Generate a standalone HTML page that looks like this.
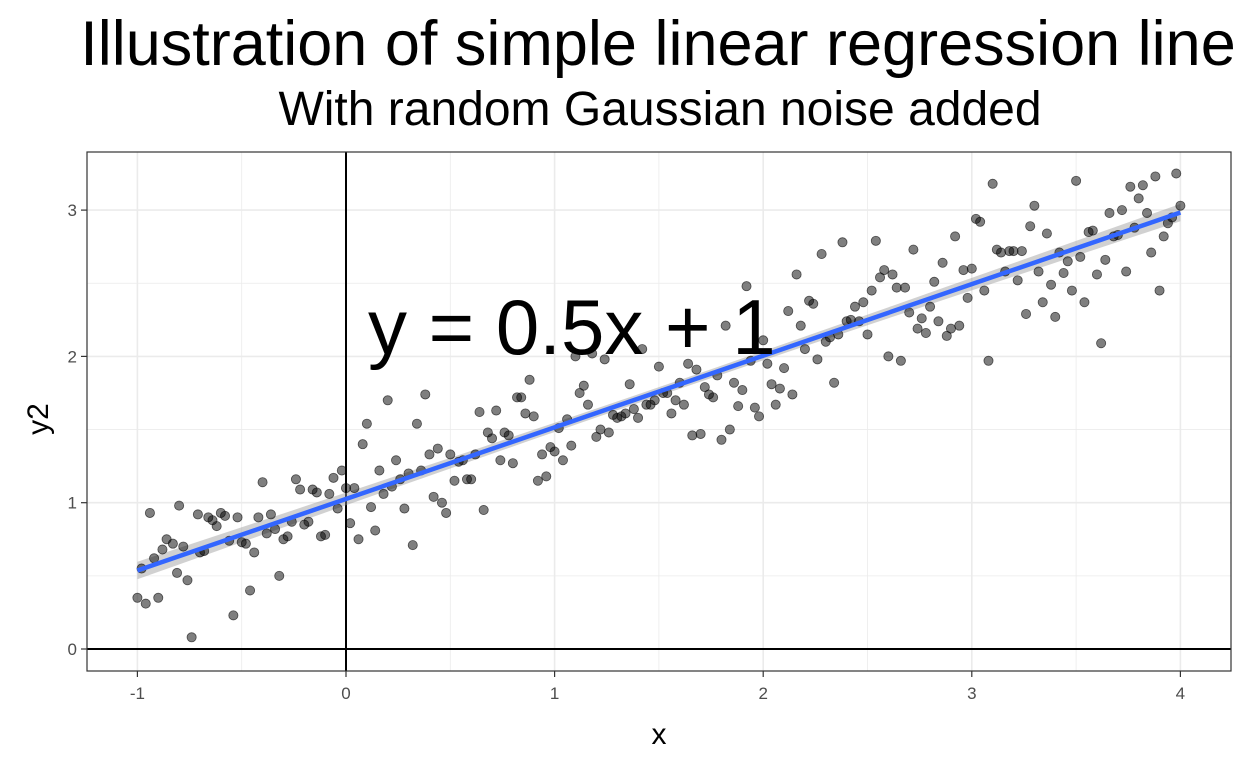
<!DOCTYPE html>
<html><head><meta charset="utf-8"><style>
html,body{margin:0;padding:0;background:#fff;}
svg{display:block;font-family:"Liberation Sans",sans-serif;}
</style></head><body>
<svg id="chart" width="1248" height="768" viewBox="0 0 1248 768" xmlns="http://www.w3.org/2000/svg">
<text x="658" y="65" font-size="63" text-anchor="middle" fill="#000">Illustration of simple linear regression line</text>
<text x="660" y="125" font-size="48" text-anchor="middle" fill="#000">With random Gaussian noise added</text>
<rect x="87" y="152" width="1144" height="519" fill="#fff"/>
<g id="grid"></g>
<g id="refs"></g>
<g id="band"></g>
<g id="pts"></g>
<g id="fit"></g>
<rect x="87" y="152" width="1144" height="519" fill="none" stroke="#333" stroke-width="1.2"/>
<g id="axes"></g>
<text x="368" y="354" font-size="78" fill="#000">y = 0.5x + 1</text>
<text x="659" y="744" font-size="30" text-anchor="middle" fill="#000">x</text>
<text x="40" y="411" font-size="30" text-anchor="middle" fill="#000" transform="rotate(-90 48 411)">y2</text>
</svg>
<script>
const xs=[-1.00,-0.96,-0.94,-0.98,-0.92,-0.90,-0.88,-0.86,-0.83,-0.81,-0.80,-0.78,-0.76,-0.74,-0.71,-0.70,-0.68,-0.66,-0.64,-0.62,-0.60,-0.58,-0.56,-0.54,-0.52,-0.50,-0.48,-0.46,-0.44,-0.42,-0.40,-0.38,-0.36,-0.34,-0.32,-0.30,-0.28,-0.26,-0.24,-0.22,-0.20,-0.18,-0.16,-0.14,-0.12,-0.10,-0.08,-0.06,-0.04,-0.02,0.00,0.02,0.04,0.06,0.08,0.10,0.12,0.14,0.16,0.18,0.20,0.22,0.24,0.26,0.28,0.30,0.32,0.34,0.36,0.38,0.40,0.42,0.44,0.46,0.48,0.50,0.52,0.54,0.56,0.58,0.60,0.62,0.64,0.66,0.68,0.70,0.72,0.74,0.76,0.78,0.80,0.82,0.84,0.86,0.88,0.90,0.92,0.94,0.96,0.98,1.00,1.02,1.04,1.06,1.08,1.10,1.12,1.14,1.16,1.18,1.20,1.22,1.24,1.26,1.28,1.30,1.32,1.34,1.36,1.38,1.40,1.42,1.44,1.46,1.48,1.50,1.52,1.54,1.56,1.58,1.60,1.62,1.64,1.66,1.68,1.70,1.72,1.74,1.76,1.78,1.80,1.82,1.84,1.86,1.88,1.90,1.92,1.94,1.96,1.98,2.00,2.02,2.04,2.06,2.08,2.10,2.12,2.14,2.16,2.18,2.20,2.22,2.24,2.26,2.28,2.30,2.32,2.34,2.36,2.38,2.40,2.42,2.44,2.46,2.48,2.50,2.52,2.54,2.56,2.58,2.60,2.62,2.64,2.66,2.68,2.70,2.72,2.74,2.76,2.78,2.80,2.82,2.84,2.86,2.88,2.90,2.92,2.94,2.96,2.98,3.00,3.02,3.04,3.06,3.08,3.10,3.12,3.14,3.16,3.18,3.20,3.22,3.24,3.26,3.28,3.30,3.32,3.34,3.36,3.38,3.40,3.42,3.44,3.46,3.48,3.50,3.52,3.54,3.56,3.58,3.60,3.62,3.64,3.66,3.68,3.70,3.72,3.74,3.76,3.78,3.80,3.82,3.84,3.86,3.88,3.90,3.92,3.94,3.96,3.98,4.00];
const ys=[0.35,0.31,0.93,0.55,0.62,0.35,0.68,0.75,0.72,0.52,0.98,0.70,0.47,0.08,0.92,0.66,0.67,0.90,0.88,0.84,0.93,0.91,0.74,0.23,0.90,0.73,0.72,0.40,0.66,0.90,1.14,0.79,0.92,0.82,0.50,0.75,0.77,0.87,1.16,1.09,0.85,0.87,1.09,1.07,0.77,0.78,1.06,1.17,0.96,1.22,1.10,0.86,1.10,0.75,1.40,1.54,0.97,0.81,1.22,1.06,1.70,1.11,1.29,1.16,0.96,1.20,0.71,1.54,1.22,1.74,1.33,1.04,1.37,1.00,0.93,1.33,1.15,1.28,1.29,1.16,1.16,1.33,1.62,0.95,1.48,1.44,1.63,1.29,1.48,1.46,1.27,1.72,1.72,1.61,1.84,1.59,1.15,1.33,1.18,1.38,1.35,1.51,1.29,1.57,1.39,2.00,1.75,1.80,1.67,2.02,1.45,1.50,1.98,1.48,1.60,1.58,1.59,1.61,1.81,1.64,1.58,2.05,1.67,1.67,1.70,1.93,1.75,1.75,1.61,1.70,1.82,1.67,1.95,1.46,1.91,1.47,1.79,1.74,1.72,1.87,1.43,2.21,1.50,1.82,1.66,1.77,2.48,1.97,1.65,1.59,2.11,1.95,1.81,1.67,1.78,1.92,2.31,1.74,2.56,2.21,2.05,2.38,2.36,1.98,2.70,2.10,2.13,1.82,2.15,2.78,2.24,2.25,2.34,2.24,2.37,2.15,2.45,2.79,2.54,2.59,2.00,2.56,2.47,1.97,2.47,2.30,2.73,2.19,2.26,2.16,2.34,2.51,2.24,2.64,2.14,2.19,2.82,2.21,2.59,2.40,2.60,2.94,2.92,2.45,1.97,3.18,2.73,2.71,2.58,2.72,2.72,2.52,2.72,2.29,2.89,3.03,2.58,2.37,2.84,2.49,2.27,2.71,2.57,2.65,2.45,3.20,2.68,2.37,2.85,2.86,2.56,2.09,2.66,2.98,2.82,2.83,3.00,2.58,3.16,2.88,3.08,3.17,2.98,2.71,3.23,2.45,2.82,2.91,2.95,3.25,3.03];
const xTicks=[-1,0,1,2,3,4];
const yTicks=[0,1,2,3];
const xTickLabels=["-1","0","1","2","3","4"];
const yTickLabels=["0","1","2","3"];

const NS="http://www.w3.org/2000/svg";
const X=v=>346+v*208.6;
const Y=v=>649-v*146.3;
const L=87,R=1231,T=152,B=671;
function mk(tag,parent,attrs){const e=document.createElementNS(NS,tag);for(const k in attrs)e.setAttribute(k,attrs[k]);parent.appendChild(e);return e;}
const grid=document.getElementById('grid');
for(let v=-1;v<=4.01;v+=0.5){const major=Math.abs(v-Math.round(v))<1e-6;
 const l=mk('line',grid,{x1:X(v),x2:X(v),y1:T,y2:B,stroke:'#ebebeb','stroke-width':major?1.6:0.8});
 }
for(let v=0;v<=3.01;v+=0.5){const major=Math.abs(v-Math.round(v))<1e-6;
 const l=mk('line',grid,{x1:L,x2:R,y1:Y(v),y2:Y(v),stroke:'#ebebeb','stroke-width':major?1.6:0.8});
 }
const refs=document.getElementById('refs');
const rv=mk('line',refs,{x1:X(0),x2:X(0),y1:T,y2:B,stroke:'#000','stroke-width':2});

const rh=mk('line',refs,{x1:L,x2:R,y1:Y(0),y2:Y(0),stroke:'#000','stroke-width':2});

const n=xs.length;let mx=0,my=0;for(let i=0;i<n;i++){mx+=xs[i];my+=ys[i];}mx/=n;my/=n;
let sxx=0,sxy=0;for(let i=0;i<n;i++){sxx+=(xs[i]-mx)**2;sxy+=(xs[i]-mx)*(ys[i]-my);}
const b=sxy/sxx,a=my-b*mx;let sse=0;for(let i=0;i<n;i++)sse+=(ys[i]-a-b*xs[i])**2;
const s=Math.sqrt(sse/(n-2));
const xmin=Math.min(...xs),xmax=Math.max(...xs);
let up=[],lo=[];
for(let k=0;k<=40;k++){const x=xmin+(xmax-xmin)*k/40;const se=1.97*s*Math.sqrt(1/n+(x-mx)**2/sxx);const y=a+b*x;
 up.push(X(x)+','+Y(y+se));lo.unshift(X(x)+','+Y(y-se));}
const band=mk('polygon',document.getElementById('band'),{points:up.concat(lo).join(' '),fill:'#999','fill-opacity':0.45});

const pts=document.getElementById('pts');
for(let i=0;i<n;i++){const c=mk('circle',pts,{cx:X(xs[i]),cy:Y(ys[i]),r:4.6,fill:'#000','fill-opacity':0.5,stroke:'#000','stroke-opacity':0.6,'stroke-width':0.8});
 }
const fl=mk('line',document.getElementById('fit'),{x1:X(xmin),y1:Y(a+b*xmin),x2:X(xmax),y2:Y(a+b*xmax),stroke:'#3366FF','stroke-width':4.5});

const axes=document.getElementById('axes');
xTicks.forEach((v,i)=>{const t=mk('line',axes,{x1:X(v),x2:X(v),y1:B,y2:B+6,stroke:'#333','stroke-width':1.2});
 
 const tx=mk('text',axes,{x:X(v),y:B+28,'font-size':17,'text-anchor':'middle',fill:'#4d4d4d'});tx.textContent=xTickLabels[i];
 });
yTicks.forEach((v,i)=>{const t=mk('line',axes,{x1:L-6,x2:L,y1:Y(v),y2:Y(v),stroke:'#333','stroke-width':1.2});
 
 const tx=mk('text',axes,{x:L-10,y:Y(v)+6,'font-size':17,'text-anchor':'end',fill:'#4d4d4d'});tx.textContent=yTickLabels[i];
 });
</script>
</body></html>
